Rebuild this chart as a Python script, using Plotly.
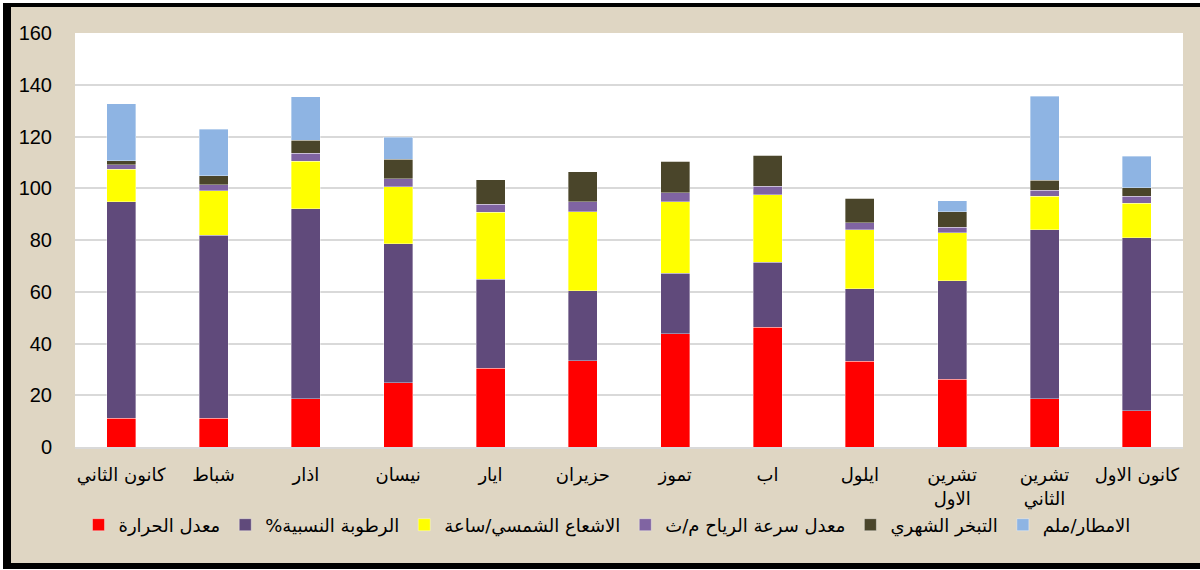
import plotly.graph_objects as go

months = ["كانون الثاني", "شباط", "اذار", "نيسان", "ايار", "حزيران", "تموز", "اب",
          "ايلول", "تشرين<br>الاول", "تشرين<br>الثاني", "كانون الاول"]

temperature = [11.1, 11.2, 18.6, 24.9, 30.4, 33.4, 43.8, 46.3, 33.1, 26.2, 18.7, 14.0]
humidity = [83.7, 70.7, 73.5, 53.6, 34.5, 27.0, 23.4, 25.1, 28.0, 38.0, 65.2, 66.8]
sunshine = [12.6, 17.2, 18.4, 22.1, 25.9, 30.5, 27.5, 26.0, 22.9, 18.6, 13.0, 13.5]
wind = [1.6, 2.3, 3.1, 3.1, 3.1, 3.8, 3.5, 3.3, 2.7, 2.2, 2.3, 2.6]
evaporation = [1.7, 3.5, 5.0, 7.6, 9.4, 11.7, 12.2, 12.0, 9.4, 5.9, 3.9, 3.2]
rainfall = [21.9, 18.0, 16.7, 8.4, 0, 0, 0, 0, 0, 4.3, 32.4, 12.2]

series_names = ["معدل الحرارة", "الرطوبة النسبية%\u200f", "الاشعاع الشمسي/ساعة",
                "معدل سرعة الرياح م/ث", "التبخر الشهري", "الامطار/ملم"]
series_values = [temperature, humidity, sunshine, wind, evaporation, rainfall]
colors = ["#FF0000", "#604A7B", "#FFFF00", "#8064A2", "#4A452A", "#8EB4E3"]

yticks = [0, 20, 40, 60, 80, 100, 120, 140, 160]

fig = go.Figure()
for name, vals, col in zip(series_names, series_values, colors):
    fig.add_trace(go.Bar(
        x=list(range(len(months))), y=vals, name=name,
        marker=dict(color=col, line=dict(color="rgba(255,255,255,0.6)", width=0.6)),
    ))

W, H = 1200, 570
L, R, T, B = 75, 17, 33, 123
pw, ph = W - L - R, H - T - B


def px_x(x):
    return (x - L) / pw


def px_y(y):
    return (H - B - y) / ph


shapes = []
# black frame lines (top, left, bottom)
shapes.append(dict(type="rect", xref="paper", yref="paper",
                   x0=px_x(3), x1=px_x(1200), y0=px_y(3), y1=px_y(7),
                   fillcolor="black", line=dict(width=0)))
shapes.append(dict(type="rect", xref="paper", yref="paper",
                   x0=px_x(3), x1=px_x(11), y0=px_y(3), y1=px_y(569),
                   fillcolor="black", line=dict(width=0)))
shapes.append(dict(type="rect", xref="paper", yref="paper",
                   x0=px_x(3), x1=px_x(1200), y0=px_y(563), y1=px_y(569),
                   fillcolor="black", line=dict(width=0)))
# white outer margins
shapes.append(dict(type="rect", xref="paper", yref="paper",
                   x0=px_x(0), x1=px_x(1200), y0=px_y(0), y1=px_y(3),
                   fillcolor="white", line=dict(width=0)))
shapes.append(dict(type="rect", xref="paper", yref="paper",
                   x0=px_x(0), x1=px_x(3), y0=px_y(0), y1=px_y(570),
                   fillcolor="white", line=dict(width=0)))
shapes.append(dict(type="rect", xref="paper", yref="paper",
                   x0=px_x(0), x1=px_x(1200), y0=px_y(569), y1=px_y(570),
                   fillcolor="white", line=dict(width=0)))

fig.update_layout(
    width=W, height=H,
    barmode="stack", bargap=0.686,
    paper_bgcolor="#DFD6C3", plot_bgcolor="white",
    margin=dict(l=L, r=R, t=T, b=B, pad=0, autoexpand=False),
    font=dict(family="Liberation Sans, DejaVu Sans, sans-serif", color="black"),
    shapes=shapes,
    showlegend=True,
    legend=dict(orientation="h", x=px_x(607), xanchor="center", y=px_y(525), yanchor="middle",
                font=dict(size=18, color="black", family="DejaVu Sans, sans-serif"),
                bgcolor="rgba(0,0,0,0)", traceorder="normal", itemwidth=30),
)
fig.update_xaxes(
    tickmode="array", tickvals=list(range(len(months))), ticktext=months,
    range=[-0.5, len(months) - 0.5],
    tickfont=dict(size=18, family="DejaVu Sans, sans-serif"),
    showgrid=False, showline=True, linecolor="#D9D9D9", linewidth=1.5,
    ticks="", ticklabelstandoff=11,
)
fig.update_yaxes(
    tickmode="array", tickvals=yticks, range=[0, 160],
    tickfont=dict(size=20), showgrid=True, gridcolor="#D9D9D9", gridwidth=1.5,
    zeroline=False, showline=False, ticks="", ticklabelstandoff=22,
)

fig.write_html("out.html", config={"displayModeBar": False},
               post_script="document.body.style.margin='0px';")
